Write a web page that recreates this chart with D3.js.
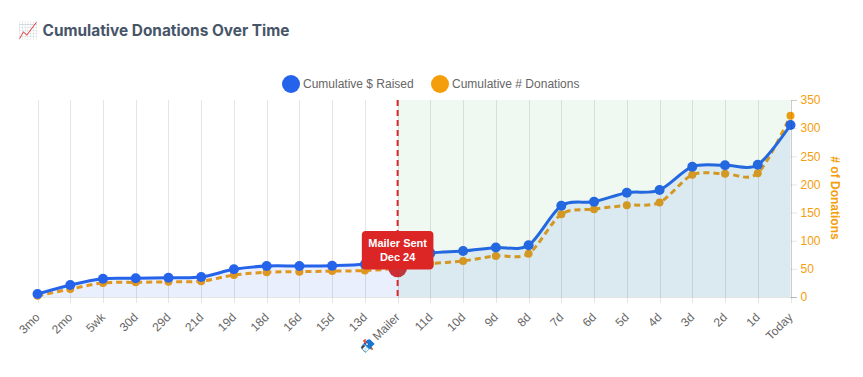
<!DOCTYPE html>
<html>
<head>
<meta charset="utf-8">
<script src="https://cdn.jsdelivr.net/npm/d3@7"></script>
<style>
    html, body { margin: 0; padding: 0; background: #fff; }
    svg { display: block; font-family: "Liberation Sans", Arial, sans-serif; }
</style>
</head>
<body>
<script>
var labels = ["3mo", "2mo", "5wk", "30d", "29d", "21d", "19d", "18d", "16d", "15d", "13d", "📬 Mailer",
    "11d", "10d", "9d", "8d", "7d", "6d", "5d", "4d", "3d", "2d", "1d", "Today"];
// cumulative $ raised, the left axis is hidden so these are read against 0-35000
var raised = [530, 2130, 3250, 3320, 3430, 3550, 4920, 5500, 5500, 5560, 5800, 6600,
    7800, 8170, 8800, 9180, 16200, 16930, 18530, 19000, 23150, 23400, 23500, 30560];
var donations = [2, 14, 25, 26, 27, 28, 39, 44, 45, 46, 47, 51,
    59, 64, 73, 77, 147, 156, 163, 168, 217, 219, 220, 322];
var rightTicks = [0, 50, 100, 150, 200, 250, 300, 350];
var mailerIndex = 11;

var width = 863, height = 377;
var margin = { top: 100, right: 72.5, bottom: 80, left: 37.5 };

var svg = d3.select("body").append("svg")
    .attr("width", width)
    .attr("height", height);

var x = d3.scalePoint()
    .domain(labels)
    .range([margin.left, width - margin.right]);
var yLeft = d3.scaleLinear().domain([0, 35000]).range([height - margin.bottom, margin.top]);
var yRight = d3.scaleLinear().domain([0, 350]).range([height - margin.bottom, margin.top]);

var bottom = yRight(0), top_ = yRight(350), right = x("Today"), mailerX = x(labels[mailerIndex]);

// title
svg.append("text")
    .attr("x", 18).attr("y", 36)
    .attr("font-size", 16)
    .style("font-family", "'Noto Color Emoji', 'DejaVu Sans', sans-serif")
    .text("📈");
svg.append("text")
    .attr("x", 42.5).attr("y", 36)
    .attr("font-size", 15.4)
    .attr("font-weight", 700)
    .attr("fill", "#475569")
    .style("font-family", "Inter, 'Liberation Sans', sans-serif")
    .text("Cumulative Donations Over Time");

// legend
var legend = [
    { label: "Cumulative $ Raised", color: "#2563eb", cx: 291, tx: 303 },
    { label: "Cumulative # Donations", color: "#f59e0b", cx: 440, tx: 452 }
];
legend.forEach(function (d) {
    svg.append("circle").attr("cx", d.cx).attr("cy", 84).attr("r", 9).attr("fill", d.color);
    svg.append("text").attr("x", d.tx).attr("y", 88)
        .attr("font-size", 12).attr("fill", "#666").text(d.label);
});

// grid
svg.append("g").selectAll("line")
    .data(labels)
    .join("line")
    .attr("x1", function (d) { return Math.round(x(d)) + 0.5; })
    .attr("x2", function (d) { return Math.round(x(d)) + 0.5; })
    .attr("y1", top_)
    .attr("y2", bottom + 6)
    .attr("stroke", "rgba(0,0,0,0.1)");
svg.append("line")
    .attr("x1", margin.left).attr("x2", right + 6)
    .attr("y1", Math.round(bottom) + 0.5).attr("y2", Math.round(bottom) + 0.5)
    .attr("stroke", "rgba(0,0,0,0.1)");

var curve = d3.curveCardinal.tension(0.1);

// donations go first, the blue fill and the band sit over them and dull the orange
var lineDonations = d3.line()
    .x(function (d, i) { return x(labels[i]); })
    .y(function (d) { return yRight(d); })
    .curve(curve);
svg.append("path")
    .attr("d", lineDonations(donations))
    .attr("fill", "none")
    .attr("stroke", "#f59e0b")
    .attr("stroke-width", 3)
    .attr("stroke-dasharray", "6,4");
svg.append("g").selectAll("circle")
    .data(donations)
    .join("circle")
    .attr("cx", function (d, i) { return x(labels[i]); })
    .attr("cy", function (d) { return yRight(d); })
    .attr("r", 4)
    .attr("fill", "#f59e0b");

var area = d3.area()
    .x(function (d, i) { return x(labels[i]); })
    .y0(bottom)
    .y1(function (d) { return yLeft(d); })
    .curve(curve);
svg.append("path")
    .attr("d", area(raised))
    .attr("fill", "#2563eb").attr("fill-opacity", 0.1);

// raised line
var lineRaised = d3.line()
    .x(function (d, i) { return x(labels[i]); })
    .y(function (d) { return yLeft(d); })
    .curve(curve);
svg.append("path")
    .attr("d", lineRaised(raised))
    .attr("fill", "none")
    .attr("stroke", "#2563eb")
    .attr("stroke-width", 3);
svg.append("g").selectAll("circle")
    .data(raised)
    .join("circle")
    .attr("cx", function (d, i) { return x(labels[i]); })
    .attr("cy", function (d) { return yLeft(d); })
    .attr("r", 5)
    .attr("fill", "#2563eb");

// mailer marker
svg.append("circle")
    .attr("cx", mailerX)
    .attr("cy", yRight(donations[mailerIndex]) - 0.5)
    .attr("r", 9.5)
    .attr("fill", "#c9303a");

// post-mailer band
svg.append("rect")
    .attr("x", mailerX).attr("y", top_)
    .attr("width", right - mailerX).attr("height", bottom - top_)
    .attr("fill", "#16a34a").attr("fill-opacity", 0.07);

svg.append("line")
    .attr("x1", mailerX).attr("x2", mailerX)
    .attr("y1", top_).attr("y2", bottom)
    .attr("stroke", "#dc2626")
    .attr("stroke-width", 2)
    .attr("stroke-dasharray", "6,4");

// tooltip label
svg.append("rect")
    .attr("x", mailerX - 35.8).attr("y", 231)
    .attr("width", 71.6).attr("height", 38.5)
    .attr("rx", 4)
    .attr("fill", "#dc2626");
["Mailer Sent", "Dec 24"].forEach(function (t, i) {
    svg.append("text")
        .attr("x", mailerX).attr("y", 247 + i * 14)
        .attr("text-anchor", "middle")
        .attr("font-size", 11)
        .attr("font-weight", 700)
        .attr("fill", "#fff")
        .text(t);
});

// x labels
svg.append("g").selectAll("text")
    .data(labels)
    .join("text")
    .attr("transform", function (d) { return "translate(" + (x(d) + 3) + "," + (bottom + 21) + ") rotate(-45)"; })
    .attr("text-anchor", "end")
    .attr("font-size", 12)
    .attr("fill", "#666")
    .text(function (d) { return d; });

// right axis
var axis = svg.append("g")
    .attr("transform", "translate(" + (right + 0.5) + ",0)")
    .call(d3.axisRight(yRight).tickValues(rightTicks).tickSize(6).tickPadding(3.5));
axis.select(".domain").attr("stroke", "rgba(0,0,0,0.1)");
axis.selectAll(".tick line").attr("stroke", "rgba(0,0,0,0.1)");
axis.selectAll(".tick text")
    .attr("font-size", 12)
    .attr("font-family", "'Liberation Sans', sans-serif")
    .attr("fill", "#f59e0b");

svg.append("text")
    .attr("transform", "translate(831,198) rotate(90)")
    .attr("text-anchor", "middle")
    .attr("font-size", 12)
    .attr("font-weight", 700)
    .attr("fill", "#f59e0b")
    .text("# of Donations");
</script>
</body>
</html>
